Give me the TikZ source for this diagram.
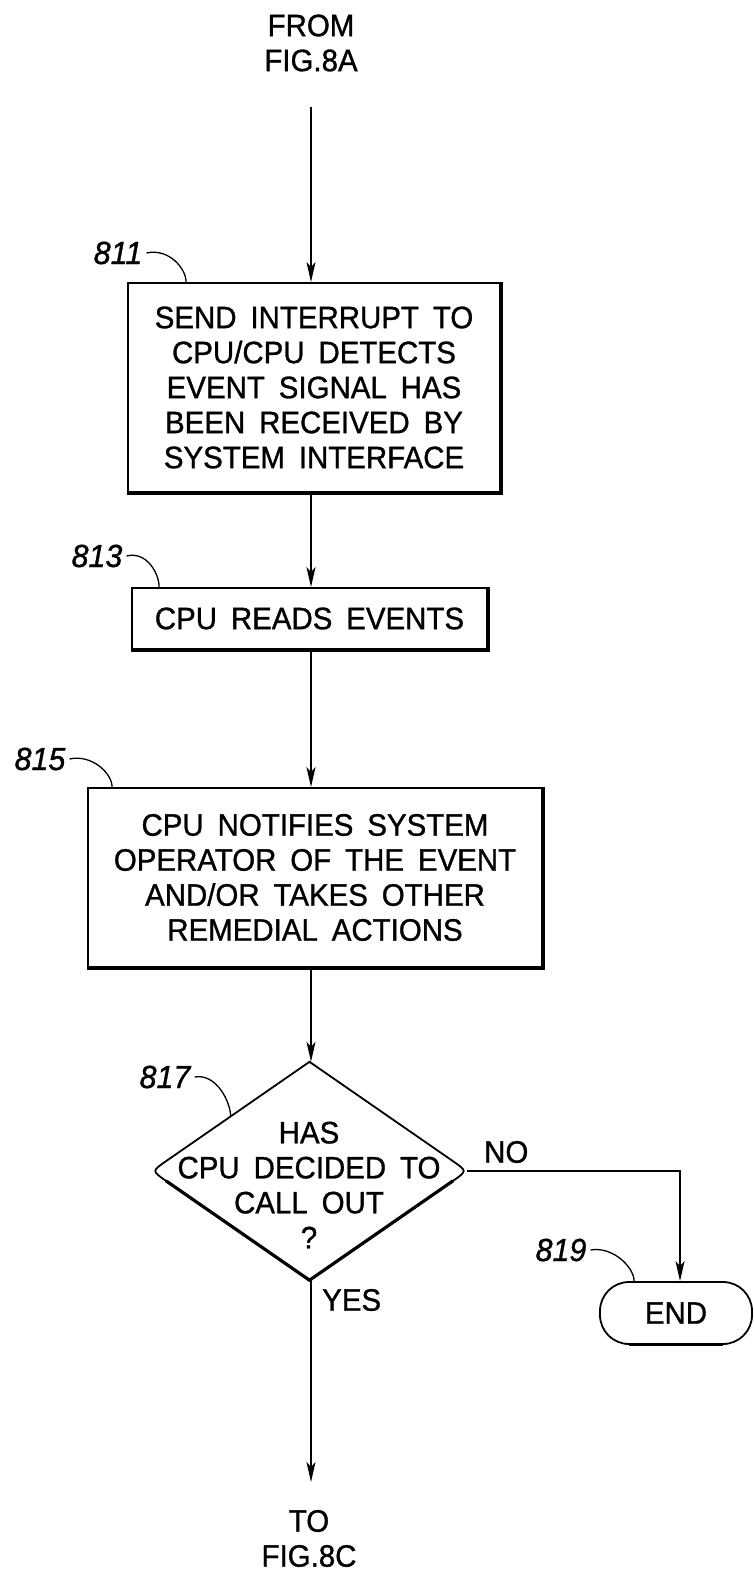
\documentclass[tikz,border=0pt]{standalone}
\usepackage{fontspec}
\setmainfont[FakeStretch=0.95,WordSpace={1.7},FakeBold=1]{Liberation Sans}
\usetikzlibrary{arrows.meta,calc,shapes.geometric}
\tikzset{
  ln/.style={line width=1.8pt},
  heavy/.style={line width=3.2pt},
  arr/.style={ln,-{Stealth[length=20pt,width=9pt,inset=5pt]}},
  txt/.style={align=center,inner sep=0pt,font=\fontsize{31}{35}\selectfont},
  stepbox/.style={draw,ln,inner sep=0pt,align=center,font=\fontsize{31}{35}\selectfont},
  refnum/.style={inner sep=0pt,font=\fontsize{32}{32}\selectfont\itshape},
  leader/.style={line width=1.3pt}
}
\begin{document}
\begin{tikzpicture}[x=1pt,y=-1pt]
\useasboundingbox (0,0) rectangle (754,1573);
% entry
\node[txt] (from) at (311,43) {FROM\\FIG.8A};
\coordinate (fromend) at (311,107);
% 811
\node[stepbox,minimum width=372pt,minimum height=209pt] (b811) at (314,387.5)
 {SEND INTERRUPT TO\\CPU/CPU DETECTS\\EVENT SIGNAL HAS\\BEEN RECEIVED BY\\SYSTEM INTERFACE};
\draw[heavy] (b811.south west) -- (b811.south east) -- (b811.north east);
\node[refnum] (l811) at (118,253) {811};
\coordinate (t811) at ($(b811.north west)+(59,0)$);
\draw[leader] (l811.east) ++(4,0) .. controls +(22,-5) and +(0,-14) .. (t811);
% 813
\node[stepbox,minimum width=355pt,minimum height=61pt] (b813) at (309.5,618.5) {CPU READS EVENTS};
\draw[heavy] (b813.south west) -- (b813.south east) -- (b813.north east);
\node[refnum] (l813) at (97,556) {813};
\coordinate (t813) at ($(b813.north west)+(28,0)$);
\draw[leader] (l813.east) ++(4,0) .. controls +(20,-5) and +(0,-14) .. (t813);
% 815
\node[stepbox,minimum width=454pt,minimum height=179pt] (b815) at (315,877.5)
 {CPU NOTIFIES SYSTEM\\OPERATOR OF THE EVENT\\AND/OR TAKES OTHER\\REMEDIAL ACTIONS};
\draw[heavy] (b815.south west) -- (b815.south east) -- (b815.north east);
\node[refnum] (l815) at (40,759) {815};
\coordinate (t815) at ($(b815.north west)+(25,0)$);
\draw[leader] (l815.east) ++(4,0) .. controls +(22,-5) and +(0,-14) .. (t815);
% 817 decision
\node[diamond,minimum width=315pt,minimum height=218pt,inner sep=0pt] (d) at (309.5,1171) {};
\draw[ln] (d.north) -- ($(d.east)!0.09!(d.north)$) .. controls (d.east) .. ($(d.east)!0.09!(d.south)$)
  -- (d.south) -- ($(d.west)!0.09!(d.south)$) .. controls (d.west) .. ($(d.west)!0.09!(d.north)$) -- cycle;
\draw[heavy] ($(d.east)!0.09!(d.south)$) -- (d.south) -- ($(d.west)!0.09!(d.south)$);
\node[txt] (dt) at (309,1185) {HAS\\CPU DECIDED TO\\CALL OUT\\?};
\node[refnum] (l817) at (165,1077) {817};
\coordinate (t817) at ($(d.north)!0.5!(d.west)$);
\draw[leader] (l817.east) ++(4,0) .. controls +(22,-4) and +(0,-14) .. (t817);
% 819 end
\node[draw,ln,rounded corners=29pt,minimum width=152pt,minimum height=62pt,inner sep=0pt,
  font=\fontsize{31}{35}\selectfont] (end) at (676,1313) {END};
\draw[line width=2.6pt] ($(end.south west)+(30,-0.4)$) -- ($(end.south east)+(-30,-0.4)$);
\node[refnum] (l819) at (561,1250) {819};
\coordinate (t819) at ($(end.north west)+(35,0)$);
\draw[leader] (l819.east) ++(4,0) .. controls +(22,-4) and +(0,-14) .. (t819);
\coordinate (endtop) at ($(end.north)+(4,0)$);
% exit
\node[txt] (to) at (309,1538.5) {TO\\FIG.8C};
\coordinate (toend) at (311,1482);
% connectors
\draw[arr] (fromend) -- (b811.north -| fromend);
\draw[arr] (b811.south -| fromend) -- (b813.north -| fromend);
\draw[arr] (b813.south -| fromend) -- (b815.north -| fromend);
\draw[arr] (b815.south -| fromend) -- (d.north -| fromend);
\draw[arr] (d.east) -| (endtop);
\draw[arr] (d.south -| fromend) -- (toend);
\node[inner sep=0pt,anchor=west,font=\fontsize{31}{35}\selectfont] (no) at (484,1152) {NO};
\node[inner sep=0pt,anchor=west,font=\fontsize{31}{35}\selectfont] (yes) at (322,1300) {YES};
\end{tikzpicture}
\end{document}
